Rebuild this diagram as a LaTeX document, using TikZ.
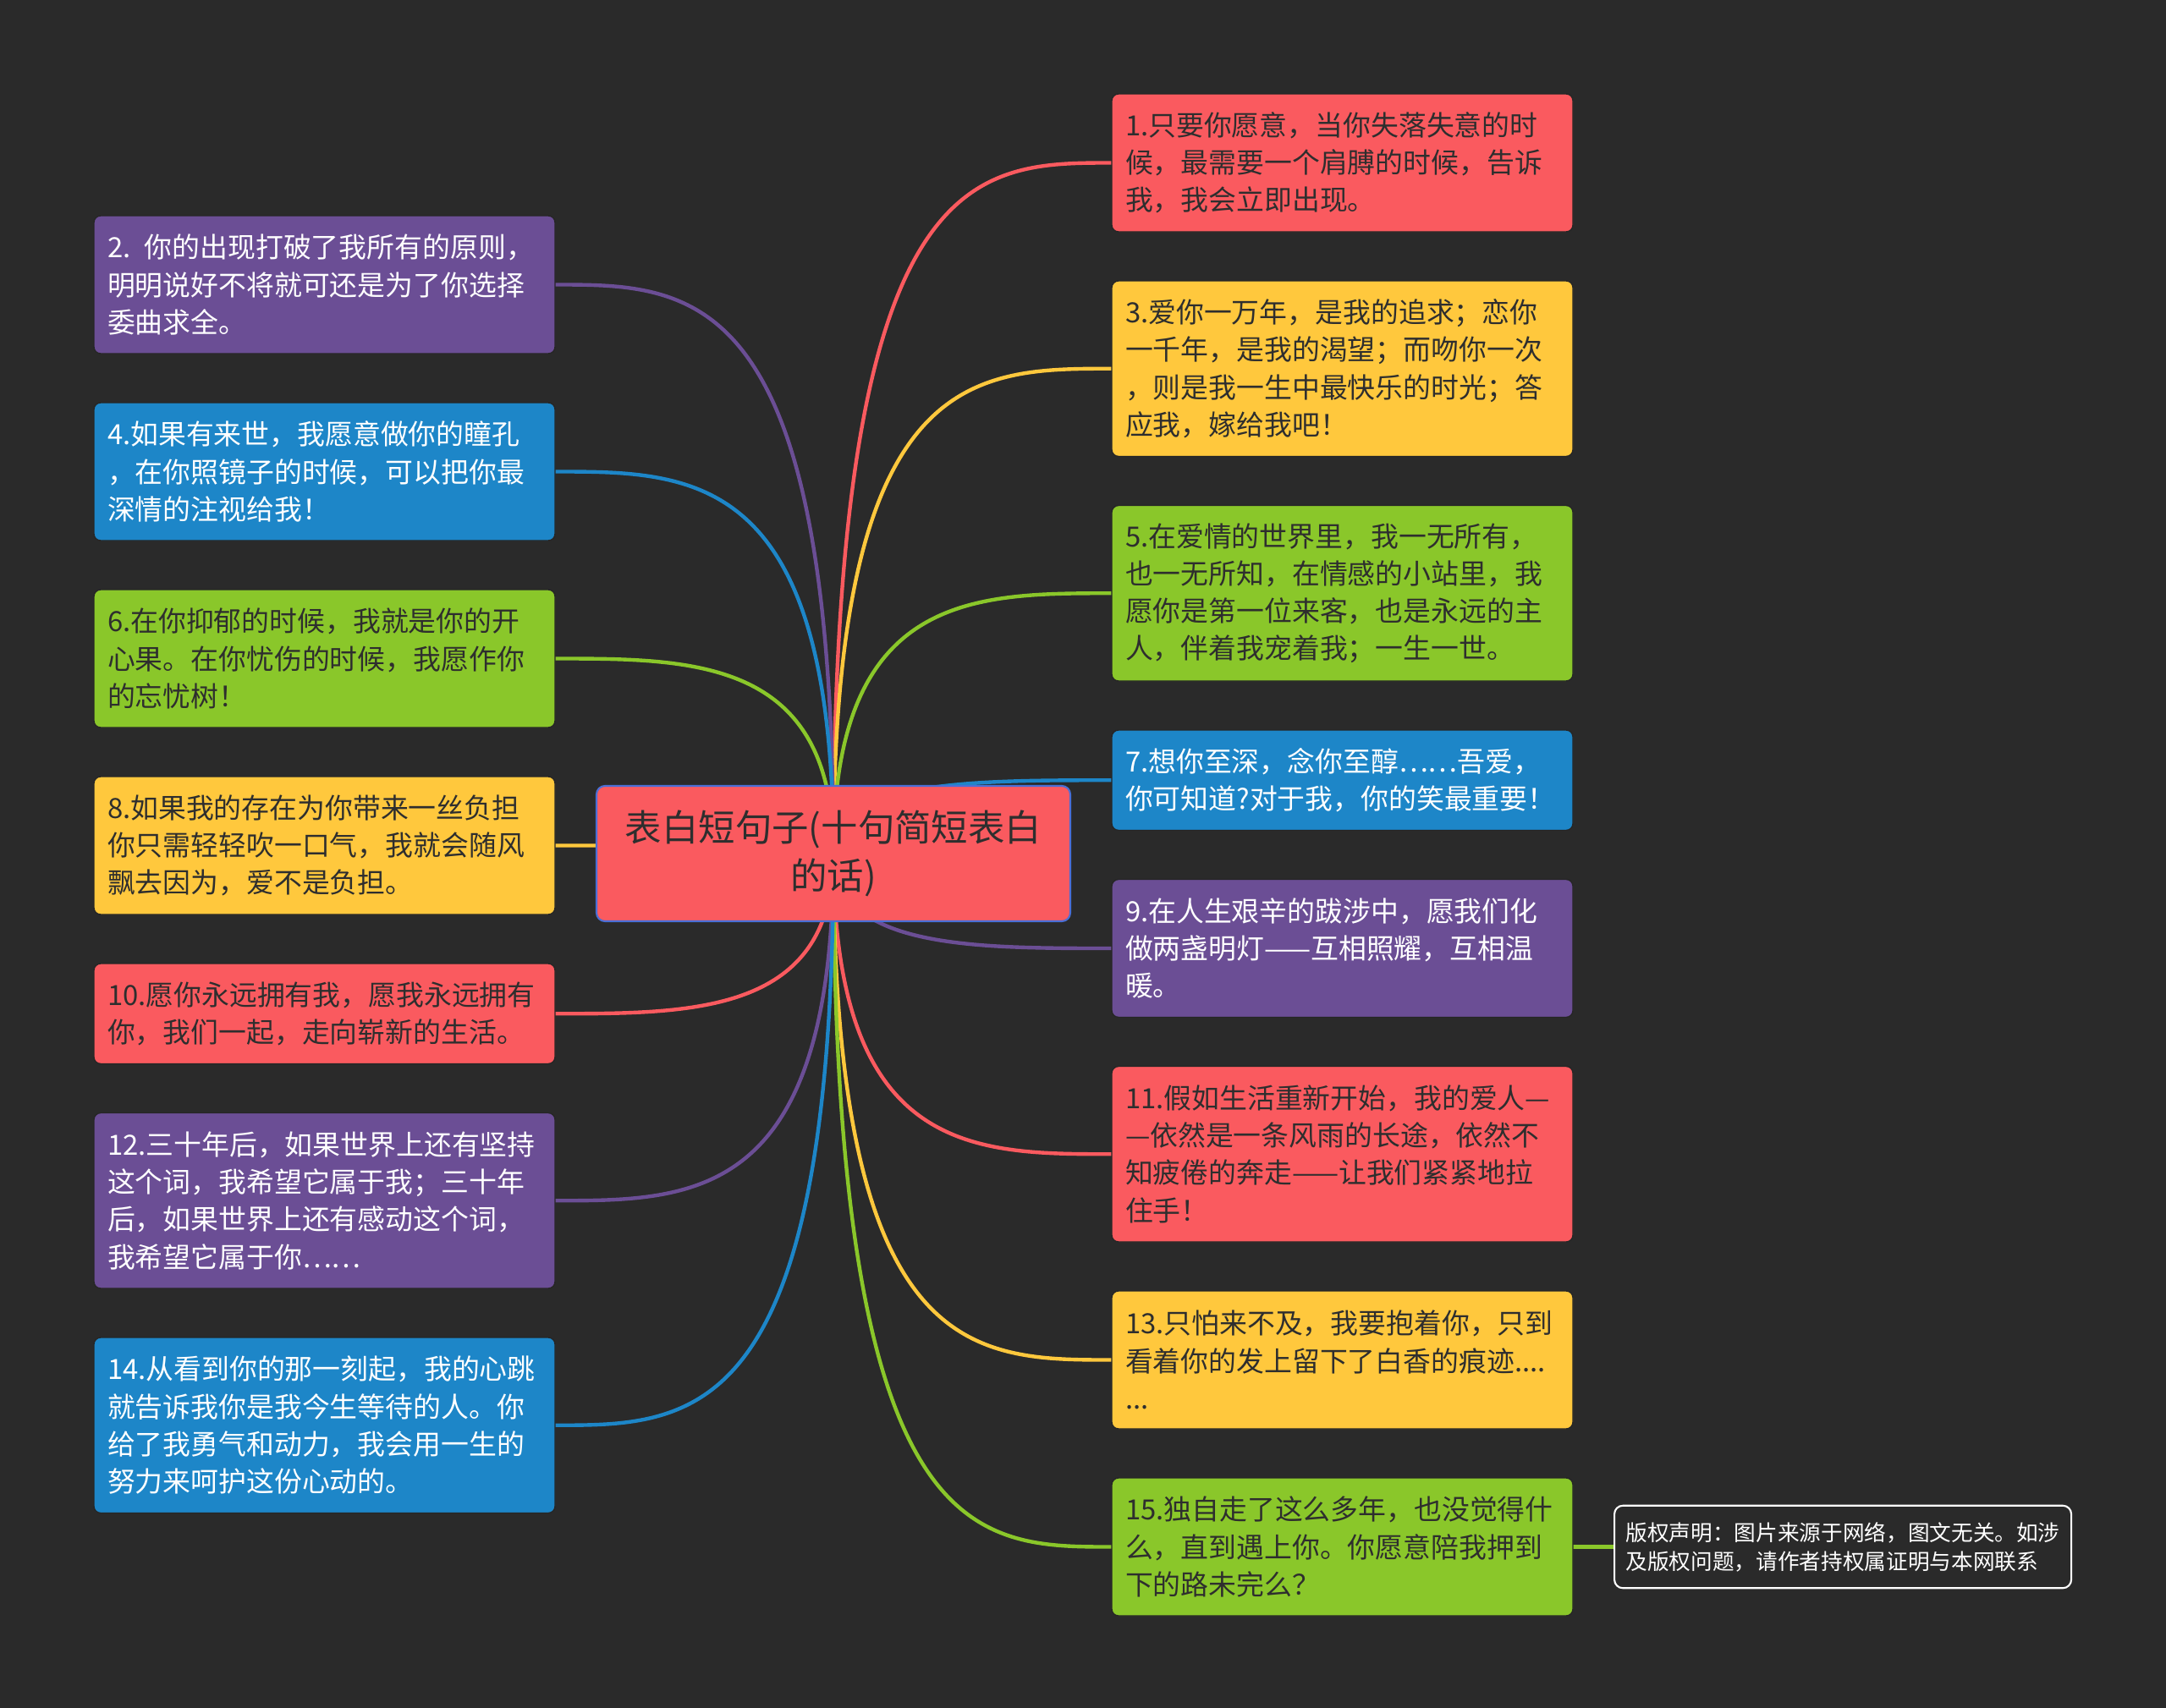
\documentclass[tikz,border=0pt]{standalone}
\usepackage{fontspec}
\setmainfont{Noto Sans CJK SC}
\usetikzlibrary{positioning, backgrounds, calc}

\definecolor{pagebg}{HTML}{2A2A2A}
\definecolor{mred}{HTML}{FA5A5F}
\definecolor{myellow}{HTML}{FFC83D}
\definecolor{mgreen}{HTML}{8AC72A}
\definecolor{mblue}{HTML}{1D86C8}
\definecolor{mpurple}{HTML}{6B4E95}
\definecolor{darktext}{HTML}{2E2E2E}
\definecolor{rootline}{HTML}{4A6FD6}

\begin{document}
\begin{tikzpicture}[
    node distance=1.16cm,
    item/.style={rectangle, rounded corners=0.16cm, draw=black!85, line width=0.8pt, outer sep=0pt, text width=10.26cm, inner xsep=0.32cm, inner ysep=0pt, align=left, font=\fontsize{18.7pt}{25.2pt}\selectfont},
    two/.style={minimum height=2.37cm},
    three/.style={minimum height=3.26cm},
    four/.style={minimum height=4.15cm},
    redbox/.style={item, fill=mred, text=darktext},
    yellowbox/.style={item, fill=myellow, text=darktext},
    greenbox/.style={item, fill=mgreen, text=darktext},
    bluebox/.style={item, fill=mblue, text=white},
    purplebox/.style={item, fill=mpurple, text=white},
    root/.style={rectangle, rounded corners=0.2cm, draw=rootline, line width=1.2pt, fill=mred, text=darktext, minimum width=11.2cm, minimum height=3.2cm, align=center, font=\fontsize{24.7pt}{32.4pt}\selectfont},
    note/.style={rectangle, rounded corners=0.2cm, draw=white, line width=1.2pt, fill=pagebg, text=white, align=left, minimum width=10.8cm, minimum height=1.95cm, inner xsep=0.26cm, font=\fontsize{14.6pt}{19.3pt}\selectfont},
    link/.style={line width=2.5pt},
]
    \useasboundingbox (0,0) rectangle (51.2,-40.38);

    % centre
    \node (root) [root] at (19.70,-20.18) {表白短句子(十句简短表白\\的话)};

    % right column
    \node (s1) [redbox, three, anchor=north west] at (26.28,-2.22) {1.只要你愿意，当你失落失意的时\\候，最需要一个肩膊的时候，告诉\\我，我会立即出现。};
    \node (s3) [yellowbox, four, below=of s1] {3.爱你一万年，是我的追求；恋你\\一千年，是我的渴望；而吻你一次\\，则是我一生中最快乐的时光；答\\应我，嫁给我吧！};
    \node (s5) [greenbox, four, below=of s3] {5.在爱情的世界里，我一无所有，\\也一无所知，在情感的小站里，我\\愿你是第一位来客，也是永远的主\\人，伴着我宠着我；一生一世。};
    \node (s7) [bluebox, two, below=of s5] {7.想你至深，念你至醇……吾爱，\\你可知道?对于我，你的笑最重要！};
    \node (s9) [purplebox, three, below=of s7] {9.在人生艰辛的跋涉中，愿我们化\\做两盏明灯——互相照耀，互相温\\暖。};
    \node (s11) [redbox, four, below=of s9] {11.假如生活重新开始，我的爱人—\\—依然是一条风雨的长途，依然不\\知疲倦的奔走——让我们紧紧地拉\\住手！};
    \node (s13) [yellowbox, three, below=of s11] {13.只怕来不及，我要抱着你，只到\\看着你的发上留下了白香的痕迹....\\...};
    \node (s15) [greenbox, three, below=of s13] {15.独自走了这么多年，也没觉得什\\么，直到遇上你。你愿意陪我押到\\下的路未完么？};

    % left column
    \node (s2) [purplebox, three, anchor=north west] at (2.22,-5.10) {2. 你的出现打破了我所有的原则，\\明明说好不将就可还是为了你选择\\委曲求全。};
    \node (s4) [bluebox, three, below=of s2] {4.如果有来世，我愿意做你的瞳孔\\，在你照镜子的时候，可以把你最\\深情的注视给我！};
    \node (s6) [greenbox, three, below=of s4] {6.在你抑郁的时候，我就是你的开\\心果。在你忧伤的时候，我愿作你\\的忘忧树！};
    \node (s8) [yellowbox, three, below=of s6] {8.如果我的存在为你带来一丝负担\\你只需轻轻吹一口气，我就会随风\\飘去因为，爱不是负担。};
    \node (s10) [redbox, two, below=of s8] {10.愿你永远拥有我，愿我永远拥有\\你，我们一起，走向崭新的生活。};
    \node (s12) [purplebox, four, below=of s10] {12.三十年后，如果世界上还有坚持\\这个词，我希望它属于我；三十年\\后，如果世界上还有感动这个词，\\我希望它属于你……};
    \node (s14) [bluebox, four, below=of s12] {14.从看到你的那一刻起，我的心跳\\就告诉我你是我今生等待的人。你\\给了我勇气和动力，我会用一生的\\努力来呵护这份心动的。};

    \node (note) [note, right=0.96cm of s15] {版权声明：图片来源于网络，图文无关。如涉\\及版权问题，请作者持权属证明与本网联系};

    \begin{scope}[on background layer]
        \fill[pagebg] (0,0) rectangle (51.2,-40.38);
        \foreach \n/\c in {s1/mred, s3/myellow, s5/mgreen, s7/mblue, s9/mpurple, s11/mred, s13/myellow, s15/mgreen}
            \draw[link, color=\c] (root.center) .. controls (root.center |- \n.west) and ($(root.center |- \n.west)!0.5!(\n.west)$) .. (\n.west);
        \foreach \n/\c in {s2/mpurple, s4/mblue, s6/mgreen, s8/myellow, s10/mred, s12/mpurple, s14/mblue}
            \draw[link, color=\c] (root.center) .. controls (root.center |- \n.east) and ($(root.center |- \n.east)!0.5!(\n.east)$) .. (\n.east);
        \draw[link, mgreen] (s15) -- (note);
    \end{scope}
\end{tikzpicture}
\end{document}
